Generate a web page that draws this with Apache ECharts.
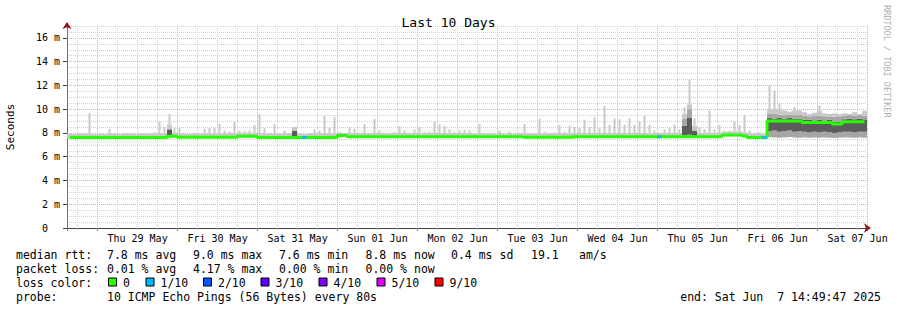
<!DOCTYPE html>
<html>
<head>
<meta charset="utf-8">
<title>Last 10 Days</title>
<script src="https://cdn.jsdelivr.net/npm/echarts@6.0.0/dist/echarts.min.js"></script>
<style>
html,body{margin:0;padding:0;background:#ffffff;}
#chart{width:897px;height:310px;}
</style>
</head>
<body>
<div id="chart"></div>
<script>
// x unit: days since 2025-05-28 00:00 ; graph covers 10 days ending Sat Jun 7 14:49:47 2025
const startDay = (14 + 49 / 60 + 47 / 3600) / 24;
const spanDays = 10;
const pointsPerDay = 16; // one sample every 1.5 h

const dayLabels = ['Thu 29 May', 'Fri 30 May', 'Sat 31 May', 'Sun 01 Jun', 'Mon 02 Jun',
                   'Tue 03 Jun', 'Wed 04 Jun', 'Thu 05 Jun', 'Fri 06 Jun', 'Sat 07 Jun'];

// median rtt (ms)
const median = [
  7.62,7.62,7.62,7.62,7.62,7.62,7.62,7.62,7.62,7.62,
  7.62,7.62,7.62,7.62,7.62,7.62,7.62,7.62,7.62,7.62,
  7.72,7.72,7.64,7.64,7.64,7.64,7.64,7.64,7.64,7.64,
  7.64,7.64,7.64,7.64,7.72,7.72,7.72,7.72,7.62,7.62,
  7.62,7.62,7.62,7.62,7.62,7.62,7.62,7.62,7.62,7.62,
  7.62,7.62,7.62,7.62,7.78,7.78,7.68,7.68,7.68,7.68,
  7.68,7.68,7.68,7.68,7.68,7.68,7.68,7.68,7.68,7.68,
  7.68,7.68,7.68,7.68,7.68,7.68,7.68,7.68,7.68,7.68,
  7.68,7.68,7.68,7.68,7.68,7.68,7.68,7.68,7.68,7.68,
  7.68,7.64,7.64,7.64,7.64,7.64,7.64,7.64,7.64,7.64,
  7.64,7.68,7.68,7.68,7.68,7.68,7.68,7.68,7.68,7.68,
  7.68,7.68,7.68,7.68,7.68,7.68,7.68,7.68,7.68,7.68,
  7.68,7.68,7.68,7.68,7.68,7.68,7.68,7.68,7.68,7.68,
  7.68,7.82,7.82,7.82,7.82,7.75,7.62,7.62,7.62,7.62,
  9.0,9.0,9.0,9.0,9.0,9.0,9.0,8.88,8.88,8.88,
  8.88,8.88,8.88,8.75,8.75,8.95,8.95,8.95,8.95,8.95
];

// smoke: lowest ping, start of dark band, end of dark band, upper dense edge, highest ping (ms)
const smokeMin = [
  7.56,7.56,7.56,7.56,7.56,7.56,7.56,7.56,7.56,7.56,
  7.56,7.56,7.56,7.56,7.56,7.56,7.56,7.56,7.56,7.56,
  7.62,7.62,7.56,7.56,7.56,7.56,7.56,7.56,7.56,7.56,
  7.56,7.56,7.56,7.56,7.62,7.62,7.62,7.62,7.56,7.56,
  7.56,7.56,7.56,7.56,7.56,7.56,7.56,7.56,7.56,7.56,
  7.56,7.56,7.56,7.56,7.68,7.68,7.6,7.6,7.6,7.6,
  7.6,7.6,7.6,7.6,7.6,7.6,7.6,7.6,7.6,7.6,
  7.6,7.6,7.6,7.6,7.6,7.6,7.6,7.6,7.6,7.6,
  7.6,7.6,7.6,7.6,7.6,7.6,7.6,7.6,7.6,7.6,
  7.6,7.56,7.56,7.56,7.56,7.56,7.56,7.56,7.56,7.56,
  7.56,7.6,7.6,7.6,7.6,7.6,7.6,7.6,7.6,7.6,
  7.6,7.6,7.6,7.6,7.6,7.6,7.6,7.6,7.6,7.6,
  7.6,7.6,7.6,7.6,7.6,7.6,7.6,7.6,7.6,7.6,
  7.6,7.72,7.72,7.72,7.72,7.66,7.56,7.56,7.56,7.56,
  7.65,7.62,7.6,7.62,7.65,7.62,7.6,7.62,7.6,7.62,
  7.6,7.62,7.6,7.58,7.6,7.62,7.62,7.6,7.62,7.6
];
const smokeLo = [
  7.56,7.56,7.56,7.56,7.56,7.56,7.56,7.56,7.56,7.56,
  7.56,7.56,7.56,7.56,7.56,7.56,7.56,7.56,7.56,7.56,
  7.75,7.62,7.56,7.56,7.56,7.56,7.56,7.56,7.56,7.56,
  7.56,7.56,7.56,7.56,7.62,7.62,7.62,7.62,7.56,7.56,
  7.56,7.56,7.56,7.56,7.56,7.7,7.56,7.56,7.56,7.56,
  7.56,7.56,7.56,7.56,7.68,7.68,7.6,7.6,7.6,7.6,
  7.6,7.6,7.6,7.6,7.6,7.6,7.6,7.6,7.6,7.6,
  7.6,7.6,7.6,7.6,7.6,7.6,7.6,7.6,7.6,7.6,
  7.6,7.6,7.6,7.6,7.6,7.6,7.6,7.6,7.6,7.6,
  7.6,7.56,7.56,7.56,7.56,7.56,7.56,7.56,7.56,7.56,
  7.56,7.6,7.6,7.6,7.6,7.6,7.6,7.6,7.6,7.6,
  7.6,7.6,7.6,7.6,7.6,7.6,7.6,7.6,7.6,7.6,
  7.6,7.6,7.6,7.8,7.85,7.75,7.6,7.6,7.6,7.6,
  7.6,7.72,7.72,7.72,7.72,7.66,7.56,7.56,7.56,7.56,
  8.15,8.2,8.1,8.15,8.2,8.1,8.15,8.1,8.05,8.1,
  8.05,8.1,8.05,8.0,8.05,8.1,8.1,8.05,8.1,8.1
];
const smokeHi = [
  7.56,7.56,7.56,7.56,7.56,7.56,7.56,7.56,7.56,7.56,
  7.56,7.56,7.56,7.56,7.56,7.56,7.56,7.56,7.56,7.56,
  8.3,7.62,7.56,7.56,7.56,7.56,7.56,7.56,7.56,7.56,
  7.56,7.56,7.56,7.56,7.62,7.62,7.62,7.62,7.56,7.56,
  7.56,7.56,7.56,7.56,7.56,8.2,7.56,7.56,7.56,7.56,
  7.56,7.56,7.56,7.56,7.68,7.68,7.6,7.6,7.6,7.6,
  7.6,7.6,7.6,7.6,7.6,7.6,7.6,7.6,7.6,7.6,
  7.6,7.6,7.6,7.6,7.6,7.6,7.6,7.6,7.6,7.6,
  7.6,7.6,7.6,7.6,7.6,7.6,7.6,7.6,7.6,7.6,
  7.6,7.56,7.56,7.56,7.56,7.56,7.56,7.56,7.56,7.56,
  7.56,7.6,7.6,7.6,7.6,7.6,7.6,7.6,7.6,7.6,
  7.6,7.6,7.6,7.6,7.6,7.6,7.6,7.6,7.6,7.6,
  7.6,7.6,7.6,8.6,9.3,8.2,7.6,7.6,7.6,7.6,
  7.6,7.72,7.72,7.72,7.72,7.66,7.56,7.56,7.56,7.56,
  9.25,9.2,9.25,9.2,9.25,9.2,9.2,9.1,9.1,9.05,
  9.1,9.05,9.1,8.95,8.95,9.15,9.2,9.15,9.2,9.15
];
const smokeUp = [
  7.56,7.56,7.56,7.56,7.56,7.56,7.56,7.56,7.56,7.56,
  7.56,7.56,7.56,7.56,7.56,7.56,7.56,7.56,7.56,7.56,
  8.3,7.62,7.56,7.56,7.56,7.56,7.56,7.56,7.56,7.56,
  7.56,7.56,7.56,7.56,7.62,7.62,7.62,7.62,7.56,7.56,
  7.56,7.56,7.56,7.56,7.56,8.2,7.56,7.56,7.56,7.56,
  7.56,7.56,7.56,7.56,7.68,7.68,7.6,7.6,7.6,7.6,
  7.6,7.6,7.6,7.6,7.6,7.6,7.6,7.6,7.6,7.6,
  7.6,7.6,7.6,7.6,7.6,7.6,7.6,7.6,7.6,7.6,
  7.6,7.6,7.6,7.6,7.6,7.6,7.6,7.6,7.6,7.6,
  7.6,7.56,7.56,7.56,7.56,7.56,7.56,7.56,7.56,7.56,
  7.56,7.6,7.6,7.6,7.6,7.6,7.6,7.6,7.6,7.6,
  7.6,7.6,7.6,7.6,7.6,7.6,7.6,7.6,7.6,7.6,
  7.6,7.6,7.6,9.2,10.0,8.2,7.6,7.6,7.6,7.6,
  7.6,7.72,7.72,7.72,7.72,7.66,7.56,7.56,7.56,7.56,
  9.6,9.6,9.55,9.5,9.55,9.5,9.55,9.45,9.4,9.45,
  9.45,9.4,9.4,9.35,9.4,9.45,9.5,9.45,9.5,9.45
];
const smokeMax = [
  7.95,7.9,8.0,7.95,9.66,7.9,7.95,7.9,8.34,7.95,
  7.9,7.95,8.0,7.9,7.95,8.0,7.95,8.05,8.95,8.5,
  9.6,8.4,8.4,7.95,7.9,8.0,7.95,8.34,8.4,8.4,
  8.8,8.2,8.1,8.95,8.2,8.15,8.2,8.67,9.6,8.4,
  8.0,8.73,7.95,8.2,8.0,8.5,7.95,7.9,8.0,8.3,
  8.2,9.43,8.45,9.35,8.05,8.0,8.47,8.35,8.0,8.73,
  8.0,9.18,8.2,8.0,7.95,8.05,8.59,8.2,8.0,8.3,
  8.5,8.05,8.1,8.95,8.73,8.59,8.3,8.05,8.2,8.25,
  8.2,7.95,8.76,7.95,8.0,7.95,8.2,7.95,8.1,7.95,
  8.0,8.76,7.95,8.0,9.2,8.1,7.95,8.05,8.67,8.1,
  8.59,8.5,8.4,9.1,8.5,9.32,8.4,10.27,8.67,9.23,
  9.15,8.67,9.23,8.67,8.95,9.45,8.67,8.2,8.0,8.3,
  8.4,8.7,8.3,10.17,12.49,9.23,8.5,8.3,9.88,8.3,
  8.67,8.2,8.2,8.95,8.67,9.5,8.2,8.0,8.05,7.9,
  12.04,11.56,10.5,9.9,9.8,10.17,9.9,9.75,9.6,9.7,
  10.3,9.65,9.6,9.65,9.6,9.65,9.6,9.75,9.6,9.85
];

// lost pings (out of 10) per sample
const loss = [
  0,0,0,0,0,0,0,0,0,0, 0,0,0,0,0,0,0,0,0,0,
  0,0,0,0,0,0,0,0,0,0, 0,0,0,0,0,0,0,0,0,0,
  0,0,0,0,0,0,0,1,0,0, 0,0,0,0,0,0,0,0,0,0,
  0,0,0,0,0,0,0,0,0,0, 0,0,0,0,0,0,0,0,0,0,
  0,0,0,0,0,0,0,0,0,0, 0,0,0,0,0,0,0,0,0,0,
  0,0,0,0,0,0,0,0,0,0, 0,0,0,0,0,0,0,0,1,0,
  0,0,0,0,0,0,0,0,0,0, 0,0,0,0,0,0,0,0,0,1,
  0,0,0,0,0,0,0,0,0,0, 0,0,0,0,0,0,0,0,0,0
];

const lossLevels = [0, 1, 2, 3, 4, 5, 9];
const lossLabels = ['0', '1/10', '2/10', '3/10', '4/10', '5/10', '9/10'];
const lossColors = ['#26ff00', '#00b8ff', '#0059ff', '#5e00ff', '#7e00ff', '#dd00ff', '#ff0000'];

const rttStats = ['7.8 ms avg', '9.0 ms max', '7.6 ms min', '8.8 ms now', '0.4 ms sd', '19.1', 'am/s'];
const lossStats = ['0.01 % avg', '4.17 % max', '0.00 % min', '0.00 % now'];
const probeText = '10 ICMP Echo Pings (56 Bytes) every 80s';
const endText = 'end: Sat Jun\u00a0\u00a07 14:49:47 2025';

// ---------------------------------------------------------------
const mono = "'DejaVu Sans Mono', 'Liberation Mono', monospace";
const X0 = startDay, X1 = startDay + spanDays;
const xs = median.map((_, i) => X0 + (i + 0.5) / pointsPerDay);
const smokeRows = median.map((_, i) => [xs[i], smokeMin[i], smokeLo[i], smokeHi[i], smokeUp[i], smokeMax[i]]);
const smokeColors = ['#a6a6a6', '#5c5c5c', '#a6a6a6', '#c9c9c9'];
const denseSpan = 0.4;      // ms of full-width haze above the dense edge
const spikeWidthFrac = 0.4; // isolated peaks drawn as thin spikes

function renderSmoke(params, api) {
  const x = api.value(0);
  const w = api.size([1 / pointsPerDay, 0])[0];
  const lv = [api.value(1), api.value(2), api.value(3), api.value(4), api.value(5)];
  const children = [];
  function rect(lo, hi, width, fill) {
    const pt = api.coord([x, hi]);
    const pb = api.coord([x, lo]);
    children.push({
      type: 'rect',
      shape: { x: pt[0] - width / 2, y: pt[1], width: width, height: pb[1] - pt[1] },
      style: { fill: fill }
    });
  }
  for (let k = 0; k < 3; k++) {
    if (lv[k + 1] > lv[k]) rect(lv[k], lv[k + 1], w, smokeColors[k]);
  }
  if (lv[4] > lv[3]) {
    const cap = Math.min(lv[4], lv[3] + denseSpan);
    rect(lv[3], cap, w, smokeColors[3]);
    if (lv[4] > cap) rect(cap, lv[4], Math.max(1.5, w * spikeWidthFrac), smokeColors[3]);
  }
  return { type: 'group', children };
}

const lossPoints = [];
loss.forEach((l, i) => { if (l > 0) lossPoints.push([xs[i], median[i], l]); });

const GRAY = '#d0d0d0', RED = '#f3a3a3', AXIS = '#404040', ARROW = '#8b1a1a';

// legend / statistics text (layout only)
const graphic = [];
function txt(x, y, s) {
  graphic.push({
    type: 'text', x: x, y: y, silent: true,
    style: { text: s, font: '11.5px ' + mono, fill: '#000', verticalAlign: 'middle', align: 'left' }
  });
}
const rowY = [254.5, 268.5, 282.5, 296.5];
const colX = [107, 193, 279, 365.5, 451, 531, 579];
txt(16, rowY[0], 'median rtt:');
rttStats.forEach((s, k) => txt(colX[k], rowY[0], s));
txt(16, rowY[1], 'packet loss:');
lossStats.forEach((s, k) => txt(colX[k], rowY[1], s));
txt(16, rowY[2], 'loss color:');
const boxX = [108.5, 146, 203.5, 261, 319, 377, 435];
lossLabels.forEach((s, k) => {
  graphic.push({
    type: 'rect', silent: true,
    shape: { x: boxX[k], y: rowY[2] - 4.5, width: 8, height: 8 },
    style: { fill: lossColors[k], stroke: '#000', lineWidth: 1 }
  });
  txt(boxX[k] + 14.5, rowY[2], s);
});
txt(16, rowY[3], 'probe:');
txt(107, rowY[3], probeText);
graphic.push({
  type: 'text', x: 881, y: rowY[3], silent: true,
  style: { text: endText, font: '11.5px ' + mono, fill: '#000', verticalAlign: 'middle', align: 'right' }
});
graphic.push({
  type: 'text', x: 887, y: 5, rotation: -Math.PI / 2, silent: true,
  style: { text: 'RRDTOOL / TOBI OETIKER', font: '8.5px ' + mono, fill: '#b0b0b0', verticalAlign: 'middle', align: 'left' }
});

const chart = echarts.init(document.getElementById('chart'), null, { renderer: 'svg', width: 897, height: 310 });
chart.setOption({
  animation: false,
  backgroundColor: '#ffffff',
  title: {
    text: 'Last 10 Days', left: 'center', top: 11,
    textStyle: { fontFamily: mono, fontSize: 13, fontWeight: 'normal', color: '#000' }
  },
  grid: { left: 67, top: 26, width: 800, height: 202, containLabel: false, outerBoundsMode: 'none' },
  xAxis: [
    { // 6-hour minor grid + day labels
      type: 'value', position: 'bottom', min: X0, max: X1,
      splitNumber: 40, minInterval: 0.25, maxInterval: 0.25,
      axisLine: { show: true, lineStyle: { color: ARROW, width: 1 }, symbol: ['none', 'arrow'], symbolSize: [7, 7], symbolOffset: [0, 4] },
      axisTick: { show: true, length: 2, lineStyle: { color: '#b0b0b0' } },
      splitLine: { show: true, lineStyle: { color: GRAY, type: [1, 1], width: 1 } },
      axisLabel: {
        show: true, margin: 5, fontFamily: mono, fontSize: 10, color: '#000',
        showMinLabel: false, showMaxLabel: false,
        formatter: function (v) {
          const f = v - Math.floor(v);
          if (Math.abs(f - 0.5) < 1e-6) {
            const idx = Math.round(v - 0.5) - 1;
            return dayLabels[idx] || '';
          }
          return '';
        }
      }
    },
    { // day (midnight) major grid
      type: 'value', position: 'bottom', min: X0, max: X1,
      splitNumber: 10, minInterval: 1, maxInterval: 1,
      axisLine: { show: true, lineStyle: { color: AXIS, width: 1 } },
      axisTick: { show: true, length: 3, lineStyle: { color: '#e06060' } },
      splitLine: { show: true, lineStyle: { color: RED, type: [1, 1], width: 1 } },
      axisLabel: { show: false }
    }
  ],
  yAxis: [
    { // 0.5 ms minor grid
      type: 'value', position: 'left', min: 0, max: 17, interval: 0.5,
      name: 'Seconds', nameLocation: 'middle', nameGap: 51, nameRotate: 90,
      nameTextStyle: { fontFamily: mono, fontSize: 11, color: '#000' },
      axisLine: { show: true, lineStyle: { color: ARROW, width: 1 }, symbol: ['none', 'arrow'], symbolSize: [7, 7], symbolOffset: [0, 4] },
      axisTick: { show: false },
      splitLine: { show: true, lineStyle: { color: GRAY, type: [1, 1], width: 1 } },
      axisLabel: { show: false }
    },
    { // 2 ms major grid with labels
      type: 'value', position: 'left', min: 0, max: 17, interval: 2,
      axisLine: { show: true, lineStyle: { color: '#707070', width: 1 } },
      axisTick: { show: true, length: 4, lineStyle: { color: AXIS } },
      splitLine: { show: true, showMaxLine: false, lineStyle: { color: RED, type: [1, 1], width: 1 } },
      axisLabel: {
        show: true, margin: 7, fontFamily: mono, fontSize: 10, color: '#000', showMaxLabel: false,
        formatter: function (v) {
          if (v === 0) return '0\u00a0\u00a0';
          return (Math.abs(v % 2) < 1e-9 && v <= 16) ? (v + ' m') : '';
        }
      }
    }
  ],
  series: [
    {
      name: 'smoke', type: 'custom', xAxisIndex: 0, yAxisIndex: 0,
      renderItem: renderSmoke, data: smokeRows,
      encode: { x: 0, y: [1, 2, 3, 4, 5] }, silent: true, clip: true, z: 2
    },
    {
      name: 'median rtt', type: 'line', xAxisIndex: 0, yAxisIndex: 0,
      data: median.map((v, i) => [xs[i], v]), step: 'middle',
      showSymbol: false, symbol: 'none', silent: true,
      lineStyle: { color: lossColors[0], width: 3 }, z: 4
    },
    {
      name: 'loss', type: 'scatter', xAxisIndex: 0, yAxisIndex: 0,
      data: lossPoints, symbol: 'rect', symbolSize: [5, 3], silent: true, z: 5,
      itemStyle: { color: function (p) { return lossColors[Math.max(0, lossLevels.indexOf(p.value[2]))]; } }
    }
  ],
  graphic: graphic
});
</script>
</body>
</html>
